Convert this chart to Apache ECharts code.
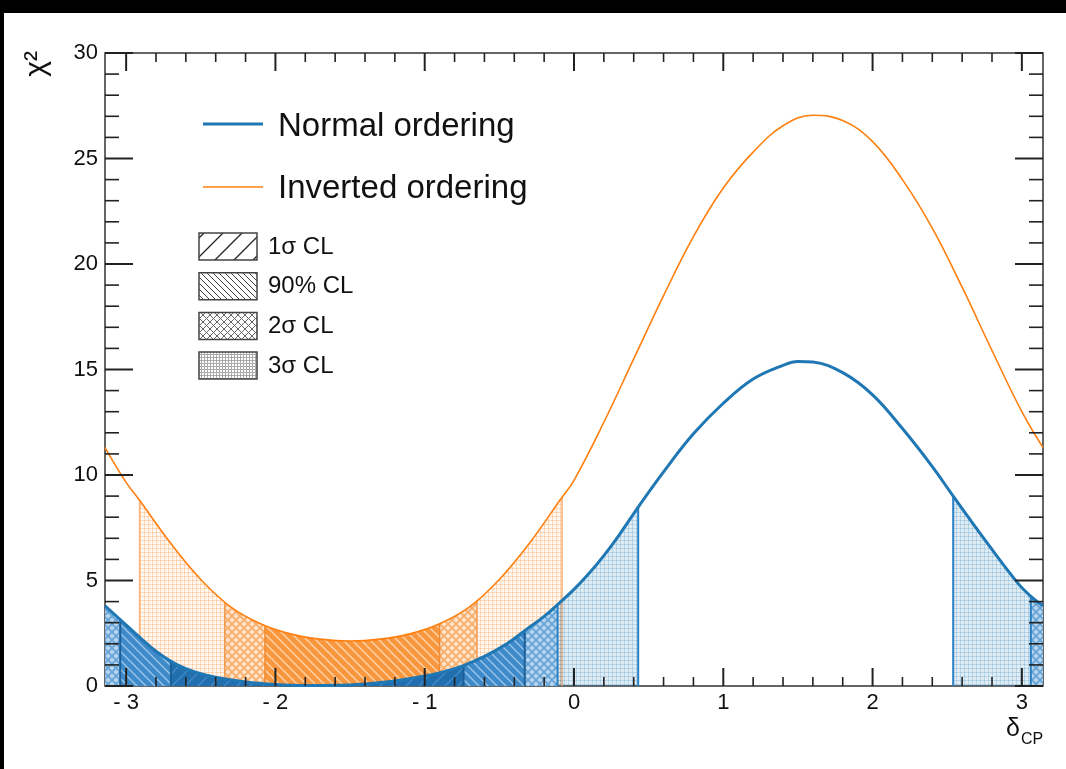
<!DOCTYPE html>
<html>
<head>
<meta charset="utf-8">
<script src="https://cdn.jsdelivr.net/npm/echarts@6/dist/echarts.min.js"></script>
<style>
  html, body { margin: 0; padding: 0; background: #fff; }
  #chart { width: 1066px; height: 769px; }
</style>
</head>
<body>
<div id="chart"></div>
<script>
const PI = Math.PI;

// χ² versus δCP (rad) for the normal mass ordering
const normalDelta = [-PI, -3.04, -2.9, -2.8, -2.7, -2.6, -2.5, -2.4, -2.2, -2.0, -1.8, -1.6, -1.4, -1.2, -1.0, -0.87,
  -0.74, -0.6, -0.45, -0.33, -0.2, -0.11, 0.0, 0.1, 0.2, 0.3, 0.43, 0.6, 0.8, 1.0, 1.2, 1.4, 1.5, 1.6, 1.8, 2.0, 2.2,
  2.4, 2.54, 2.75, 2.97, 3.06, PI];
const normalChi2 = [3.8, 3.15, 2.25, 1.65, 1.17, 0.82, 0.58, 0.41, 0.19, 0.07, 0.02, 0.03, 0.1, 0.24, 0.47, 0.68,
  0.97, 1.4, 2.0, 2.62, 3.3, 3.86, 4.58, 5.33, 6.18, 7.13, 8.48, 10.15, 11.95, 13.4, 14.55, 15.2, 15.38, 15.35, 14.85, 13.8, 12.2,
  10.4, 9.0, 6.95, 4.9, 4.25, 3.8];

// χ² versus δCP (rad) for the inverted mass ordering
const invertedDelta = [-PI, -3.0, -2.91, -2.7, -2.5, -2.3, -2.1, -1.9, -1.7, -1.5, -1.3, -1.1, -0.9, -0.7, -0.5,
  -0.3, -0.09, 0.0, 0.2, 0.4, 0.6, 0.8, 1.0, 1.2, 1.4, 1.6, 1.8, 2.0, 2.2, 2.4, 2.6, 2.8, 3.0, PI];
const invertedChi2 = [11.3, 9.65, 8.8, 6.75, 5.05, 3.75, 2.95, 2.47, 2.22, 2.13, 2.22, 2.47, 2.95, 3.75, 5.05,
  6.75, 8.85, 9.75, 12.5, 15.5, 18.5, 21.3, 23.6, 25.3, 26.55, 27.05, 26.8, 25.8, 24.0, 21.7, 18.9, 15.9, 13.0, 11.3];

// Allowed δCP intervals: [from, to, level]  (level 0 = 3σ, 1 = 2σ, 2 = 90%, 3 = 1σ)
const normalRegions = [[-PI, 0.43, 0], [2.54, PI, 0], [-PI, -0.11, 1], [3.06, PI, 1], [-3.04, -0.33, 2], [-2.70, -0.74, 3]];
const invertedRegions = [[-2.91, -0.08, 0], [-2.34, -0.65, 1], [-2.07, -0.90, 2]];

const xTickValues = [-3, -2, -1, 0, 1, 2, 3];
const xTickLabels = ['- 3', '- 2', '- 1', '0', '1', '2', '3'];
const yTickValues = [0, 5, 10, 15, 20, 25, 30];
const seriesNames = ['Normal ordering', 'Inverted ordering'];
const clNames = ['1σ CL', '90% CL', '2σ CL', '3σ CL'];

const FONT = '"Liberation Sans", Arial, Helvetica, sans-serif';
const BLUE = '#1f77b4';
const ORANGE = '#ff7f0e';

// ---- fill textures -------------------------------------------------------
function texture(size, bg, draw) {
  const c = document.createElement('canvas');
  c.width = c.height = size;
  const ctx = c.getContext('2d');
  if (bg) { ctx.fillStyle = bg; ctx.fillRect(0, 0, size, size); }
  draw(ctx, size);
  return { image: c, repeat: 'repeat' };
}
function gridLines(color, w) {
  return (ctx, s) => {
    ctx.strokeStyle = color; ctx.lineWidth = w || 1;
    ctx.beginPath();
    ctx.moveTo(0.5, 0); ctx.lineTo(0.5, s);
    ctx.moveTo(0, 0.5); ctx.lineTo(s, 0.5);
    ctx.stroke();
  };
}
function backSlash(color, w) { // "\\" lines
  return (ctx, s) => {
    ctx.strokeStyle = color; ctx.lineWidth = w;
    ctx.beginPath();
    [-s, 0, s].forEach(c => { ctx.moveTo(-1, c - 1); ctx.lineTo(s + 1, c + s + 1); });
    ctx.stroke();
  };
}
function slash(color, w) { // "/" lines
  return (ctx, s) => {
    ctx.strokeStyle = color; ctx.lineWidth = w;
    ctx.beginPath();
    [0, s, 2 * s].forEach(c => { ctx.moveTo(-1, c + 1); ctx.lineTo(s + 1, c - s - 1); });
    ctx.stroke();
  };
}
function cross(color, w) {
  return (ctx, s) => { backSlash(color, w)(ctx, s); slash(color, w)(ctx, s); };
}

const normalFills = [
  texture(4, 'rgba(31,119,180,0.14)', gridLines('rgba(31,119,180,0.2)')),
  texture(8, '#b5d4ee', cross('#65a3d5', 1.6)),
  texture(9, '#3f8ac8', backSlash('#9cc6ea', 1.3)),
  texture(13, '#226fb0', slash('#4b8fca', 1.2))
];
const invertedFills = [
  texture(4, 'rgba(255,127,14,0.06)', gridLines('rgba(255,127,14,0.24)')),
  texture(8, '#fde4cd', cross('#f7ad6b', 1.8)),
  texture(9, '#f9973f', backSlash('#fdd0a5', 1.5))
];
const normalEdges = ['#2a80c4', '#2a80c4', '#1a5f98', '#1a5f98'];
const invertedEdges = ['#f8b27a', '#f39a50', '#f08a30'];

const legendFills = [
  texture(19, '#fff', slash('#222', 1.3)),
  texture(6, '#fff', backSlash('#444', 1)),
  texture(7, '#fff', cross('#666', 1)),
  texture(3, '#fff', gridLines('#aaa'))
];

// ---- smooth interpolation of a curve (used to fill the areas under it) ----
function makeSpline(xs, ys) {
  const n = xs.length, m = new Array(n);
  for (let i = 0; i < n; i++) {
    if (i === 0) m[i] = (ys[1] - ys[0]) / (xs[1] - xs[0]);
    else if (i === n - 1) m[i] = (ys[n - 1] - ys[n - 2]) / (xs[n - 1] - xs[n - 2]);
    else m[i] = (ys[i + 1] - ys[i - 1]) / (xs[i + 1] - xs[i - 1]);
  }
  return function (x) {
    let i = 0;
    while (i < n - 2 && x > xs[i + 1]) i++;
    const h = xs[i + 1] - xs[i];
    const t = Math.min(1, Math.max(0, (x - xs[i]) / h));
    const t2 = t * t, t3 = t2 * t;
    return (2 * t3 - 3 * t2 + 1) * ys[i] + (t3 - 2 * t2 + t) * h * m[i] +
           (-2 * t3 + 3 * t2) * ys[i + 1] + (t3 - t2) * h * m[i + 1];
  };
}
const normalCurve = makeSpline(normalDelta, normalChi2);
const invertedCurve = makeSpline(invertedDelta, invertedChi2);

function regionRenderer(curve, fills, edges, edgeWidth) {
  return function (params, api) {
    const lo = api.value(0), hi = api.value(1), level = api.value(2);
    const steps = Math.max(2, Math.ceil((hi - lo) / 0.01));
    const pts = [];
    for (let k = 0; k <= steps; k++) {
      const x = lo + (hi - lo) * k / steps;
      pts.push(api.coord([x, curve(x)]));
    }
    pts.push(api.coord([hi, 0]));
    pts.push(api.coord([lo, 0]));
    const children = [{ type: 'polygon', shape: { points: pts }, style: { fill: fills[level], stroke: null } }];
    [lo, hi].forEach(x => {
      if (Math.abs(Math.abs(x) - PI) > 1e-3) {
        const a = api.coord([x, 0]), b = api.coord([x, curve(x)]);
        children.push({ type: 'line', shape: { x1: a[0], y1: a[1], x2: b[0], y2: b[1] },
          style: { stroke: edges[level], lineWidth: edgeWidth } });
      }
    });
    return { type: 'group', children };
  };
}

// Inward ticks on all four sides of the frame
function renderTicks(params, api) {
  const children = [];
  const add = (p, dx, dy, w) => children.push({ type: 'line',
    shape: { x1: p[0], y1: p[1], x2: p[0] + dx, y2: p[1] + dy }, style: { stroke: '#222', lineWidth: w } });
  for (let k = -15; k <= 15; k++) {
    const v = k / 5, major = k % 5 === 0, len = major ? 18 : 9, w = major ? 2 : 1.6;
    add(api.coord([v, 0]), 0, -len, w);
    add(api.coord([v, 30]), 0, len, w);
  }
  for (let v = 0; v <= 30; v++) {
    const major = v % 5 === 0, len = major ? 28 : 14, w = major ? 2 : 1.6;
    add(api.coord([-PI, v]), len, 0, w);
    add(api.coord([PI, v]), -len, 0, w);
  }
  return { type: 'group', children };
}

const chart = echarts.init(document.getElementById('chart'), null, { renderer: 'canvas' });

const legendGraphics = [
  { type: 'line', shape: { x1: 203, y1: 124, x2: 263, y2: 124 }, style: { stroke: BLUE, lineWidth: 3 } },
  { type: 'text', x: 278, y: 127, style: { text: seriesNames[0], font: '33px ' + FONT, fill: '#111', verticalAlign: 'middle' } },
  { type: 'line', shape: { x1: 203, y1: 187, x2: 263, y2: 187 }, style: { stroke: ORANGE, lineWidth: 1.6 } },
  { type: 'text', x: 278, y: 189, style: { text: seriesNames[1], font: '33px ' + FONT, fill: '#111', verticalAlign: 'middle' } }
];
clNames.forEach((name, i) => {
  const top = 233 + i * 39.7;
  legendGraphics.push({ type: 'rect', shape: { x: 199, y: top, width: 58, height: 27 },
    style: { fill: legendFills[i], stroke: '#444', lineWidth: 1.5 } });
  legendGraphics.push({ type: 'text', x: 268, y: top + 14,
    style: { text: name, font: '24px ' + FONT, fill: '#111', verticalAlign: 'middle' } });
});

chart.setOption({
  animation: false,
  backgroundColor: '#fff',
  textStyle: { fontFamily: FONT },
  grid: { left: 105, right: 23, top: 53, bottom: 83, show: true, borderColor: '#333', borderWidth: 1.5,
          backgroundColor: 'transparent' },
  xAxis: {
    type: 'value', min: -PI, max: PI, splitNumber: 6,
    axisLine: { show: false }, axisTick: { show: false }, splitLine: { show: false },
    axisLabel: {
      fontSize: 22, color: '#111', margin: 6, showMinLabel: false, showMaxLabel: false,
      formatter: v => {
        const i = xTickValues.findIndex(t => Math.abs(t - v) < 1e-6);
        return i >= 0 ? xTickLabels[i] : '';
      }
    }
  },
  yAxis: {
    type: 'value', min: yTickValues[0], max: yTickValues[yTickValues.length - 1], interval: 5,
    axisLine: { show: false }, axisTick: { show: false }, splitLine: { show: false },
    axisLabel: { fontSize: 22, color: '#111', margin: 7 }
  },
  graphic: [
    ...legendGraphics,
    { type: 'text', x: 37, y: 64, rotation: PI / 2,
      style: { text: 'χ²', font: '30px ' + FONT, fill: '#111', align: 'center', verticalAlign: 'middle' } },
    { type: 'text', x: 1013, y: 729, style: { text: 'δ', font: '25px ' + FONT, fill: '#111', align: 'center', verticalAlign: 'middle' } },
    { type: 'text', x: 1032, y: 740, style: { text: 'CP', font: '16px ' + FONT, fill: '#111', align: 'center', verticalAlign: 'middle' } },
    { type: 'rect', z: 100, shape: { x: 0, y: 0, width: 1066, height: 13 }, style: { fill: '#000' } },
    { type: 'rect', z: 100, shape: { x: 0, y: 0, width: 4, height: 769 }, style: { fill: '#000' } }
  ],
  series: [
    { type: 'custom', name: 'inverted CL', coordinateSystem: 'cartesian2d', clip: true, z: 1,
      renderItem: regionRenderer(invertedCurve, invertedFills, invertedEdges, 1.5), data: invertedRegions },
    { type: 'custom', name: 'normal CL', coordinateSystem: 'cartesian2d', clip: true, z: 2,
      renderItem: regionRenderer(normalCurve, normalFills, normalEdges, 2), data: normalRegions },
    { type: 'line', name: seriesNames[1], z: 3, showSymbol: false, smooth: 0.4,
      lineStyle: { color: ORANGE, width: 1.6 }, itemStyle: { color: ORANGE },
      data: invertedDelta.map((d, i) => [d, invertedChi2[i]]) },
    { type: 'line', name: seriesNames[0], z: 4, showSymbol: false, smooth: 0.4,
      lineStyle: { color: BLUE, width: 3 }, itemStyle: { color: BLUE },
      data: normalDelta.map((d, i) => [d, normalChi2[i]]) },
    { type: 'custom', name: 'ticks', coordinateSystem: 'cartesian2d', z: 5, silent: true,
      renderItem: renderTicks, data: [[0, 0]] }
  ]
});
</script>
</body>
</html>
